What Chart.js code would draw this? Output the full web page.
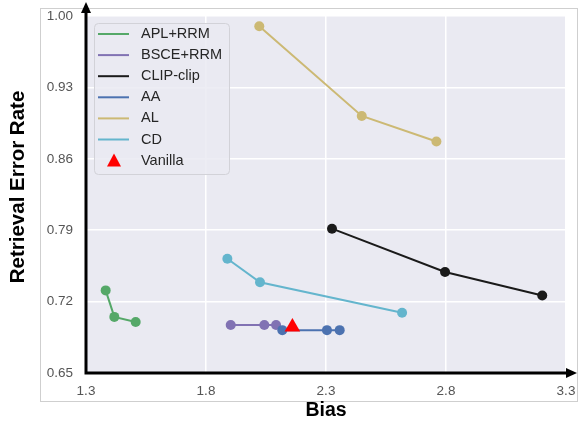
<!DOCTYPE html>
<html lang="en">
<head>
    <meta charset="UTF-8">
    <title>Bias vs Retrieval Error Rate</title>
    <script src="https://cdn.jsdelivr.net/npm/chart.js"></script>
    <style>
        body {
            margin: 0;
            background: #ffffff;
        }

        .chart-container {
            width: 578px;
            height: 424px;
        }
    </style>
</head>
<body>
    <div class="chart-container">
        <canvas id="biasChart" width="578" height="424"></canvas>
    </div>

    <script>
        // Data
        const seriesNames = ['APL+RRM', 'BSCE+RRM', 'CLIP-clip', 'AA', 'AL', 'CD'];
        const seriesColors = ['#55A868', '#8172B3', '#1a1a1a', '#4C72B0', '#CCB974', '#64B5CD'];

        const aplBias = [1.382, 1.418, 1.507];
        const aplError = [0.731, 0.705, 0.700];

        const bsceBias = [1.903, 2.043, 2.092];
        const bsceError = [0.697, 0.697, 0.697];

        const clipBias = [2.325, 2.796, 3.201];
        const clipError = [0.7915, 0.749, 0.726];

        const aaBias = [2.118, 2.304, 2.357];
        const aaError = [0.692, 0.692, 0.692];

        const alBias = [2.022, 2.449, 2.760];
        const alError = [0.990, 0.902, 0.877];

        const cdBias = [1.889, 2.025, 2.617];
        const cdError = [0.762, 0.739, 0.709];

        const vanillaBias = [2.16];
        const vanillaError = [0.695];

        const xTicks = [1.3, 1.8, 2.3, 2.8, 3.3];
        const yTicks = [0.65, 0.72, 0.79, 0.86, 0.93, 1.00];

        const allBias = [aplBias, bsceBias, clipBias, aaBias, alBias, cdBias];
        const allError = [aplError, bsceError, clipError, aaError, alError, cdError];

        const toPoints = (xs, ys) => xs.map((x, i) => ({ x: x, y: ys[i] }));

        const datasets = seriesNames.map((name, i) => ({
            label: name,
            data: toPoints(allBias[i], allError[i]),
            showLine: true,
            borderColor: seriesColors[i],
            backgroundColor: seriesColors[i],
            borderWidth: 2,
            pointRadius: 5,
            pointHoverRadius: 5,
            pointBorderWidth: 0,
            order: 10 - i
        }));

        datasets.push({
            label: 'Vanilla',
            data: toPoints(vanillaBias, vanillaError),
            showLine: false,
            pointStyle: 'triangle',
            pointRadius: 9,
            pointBorderWidth: 0,
            backgroundColor: '#ff0000',
            borderColor: '#ff0000',
            order: 0
        });

        // background, frame, arrows, titles and legend
        const decorations = {
            id: 'decorations',
            beforeDraw(chart) {
                const { ctx, chartArea: a } = chart;
                ctx.save();
                ctx.strokeStyle = '#cfcfcf';
                ctx.lineWidth = 1;
                ctx.strokeRect(40.5, 8.5, 537, 393);
                ctx.fillStyle = '#EAEAF2';
                ctx.fillRect(a.left, a.top, a.right - a.left, a.bottom - a.top);
                ctx.restore();
            },
            afterDraw(chart) {
                const { ctx, chartArea: a } = chart;
                ctx.save();

                // axis arrows
                ctx.strokeStyle = '#000';
                ctx.fillStyle = '#000';
                ctx.lineWidth = 3;
                ctx.beginPath();
                ctx.moveTo(a.left, a.bottom + 1.5);
                ctx.lineTo(a.left, 12);
                ctx.moveTo(a.left - 1.5, a.bottom);
                ctx.lineTo(566, a.bottom);
                ctx.stroke();
                ctx.beginPath();
                ctx.moveTo(a.left, 2);
                ctx.lineTo(a.left - 5, 13);
                ctx.lineTo(a.left + 5, 13);
                ctx.closePath();
                ctx.fill();
                ctx.beginPath();
                ctx.moveTo(577, a.bottom);
                ctx.lineTo(566, a.bottom - 5);
                ctx.lineTo(566, a.bottom + 5);
                ctx.closePath();
                ctx.fill();

                // axis titles
                ctx.fillStyle = '#000';
                ctx.font = 'bold 19.5px "Liberation Sans", Arial, sans-serif';
                ctx.textAlign = 'center';
                ctx.textBaseline = 'middle';
                ctx.fillText('Bias', (a.left + a.right) / 2, 411);
                ctx.font = 'bold 20.5px "Liberation Sans", Arial, sans-serif';
                ctx.translate(18, 187);
                ctx.rotate(-Math.PI / 2);
                ctx.fillText('Retrieval Error Rate', 0, 0);
                ctx.setTransform(1, 0, 0, 1, 0, 0);

                // legend
                const bx = 94, by = 23, bw = 135, bh = 151;
                ctx.beginPath();
                ctx.roundRect(bx + 0.5, by + 0.5, bw, bh, 4);
                ctx.fillStyle = 'rgba(234,234,242,0.85)';
                ctx.fill();
                ctx.strokeStyle = '#d2d2d8';
                ctx.lineWidth = 1;
                ctx.stroke();

                ctx.font = '14.5px "Liberation Sans", Arial, sans-serif';
                ctx.textAlign = 'left';
                ctx.textBaseline = 'middle';
                const labels = seriesNames.concat(['Vanilla']);
                labels.forEach((name, i) => {
                    const y = 34 + i * 21.1;
                    if (i < seriesNames.length) {
                        ctx.strokeStyle = seriesColors[i];
                        ctx.lineWidth = 2;
                        ctx.beginPath();
                        ctx.moveTo(98, y);
                        ctx.lineTo(129, y);
                        ctx.stroke();
                    } else {
                        ctx.fillStyle = '#ff0000';
                        ctx.beginPath();
                        ctx.moveTo(114, y - 7);
                        ctx.lineTo(107, y + 6);
                        ctx.lineTo(121, y + 6);
                        ctx.closePath();
                        ctx.fill();
                    }
                    ctx.fillStyle = '#262626';
                    ctx.fillText(name, 141, y);
                });

                ctx.restore();
            }
        };

        const ctx = document.getElementById('biasChart').getContext('2d');
        const biasChart = new Chart(ctx, {
            type: 'scatter',
            data: { datasets: datasets },
            options: {
                responsive: false,
                animation: false,
                layout: {
                    padding: { left: 0, top: 16, right: 12, bottom: 0 }
                },
                plugins: {
                    legend: { display: false },
                    tooltip: { enabled: false }
                },
                scales: {
                    x: {
                        type: 'linear',
                        min: 1.3,
                        max: 3.3,
                        afterBuildTicks: (axis) => {
                            axis.ticks = xTicks.map(v => ({ value: v }));
                        },
                        afterFit: (axis) => {
                            axis.height = 51;
                            axis.paddingLeft = 0;
                            axis.paddingRight = 0;
                        },
                        ticks: {
                            padding: 10,
                            color: '#555',
                            font: { family: '"Liberation Sans", Arial, sans-serif', size: 13.5 },
                            callback: (v) => v.toFixed(1)
                        },
                        grid: { color: '#ffffff', lineWidth: 1.5, drawTicks: false },
                        border: { display: false }
                    },
                    y: {
                        type: 'linear',
                        min: 0.65,
                        max: 1.00,
                        afterBuildTicks: (axis) => {
                            axis.ticks = yTicks.map(v => ({ value: v }));
                        },
                        afterFit: (axis) => {
                            axis.width = 86;
                            axis.paddingTop = 0;
                            axis.paddingBottom = 0;
                        },
                        ticks: {
                            padding: 13,
                            color: '#555',
                            font: { family: '"Liberation Sans", Arial, sans-serif', size: 13.5 },
                            callback: (v) => v.toFixed(2)
                        },
                        grid: { color: '#ffffff', lineWidth: 1.5, drawTicks: false },
                        border: { display: false }
                    }
                }
            },
            plugins: [decorations]
        });
    </script>
</body>
</html>
